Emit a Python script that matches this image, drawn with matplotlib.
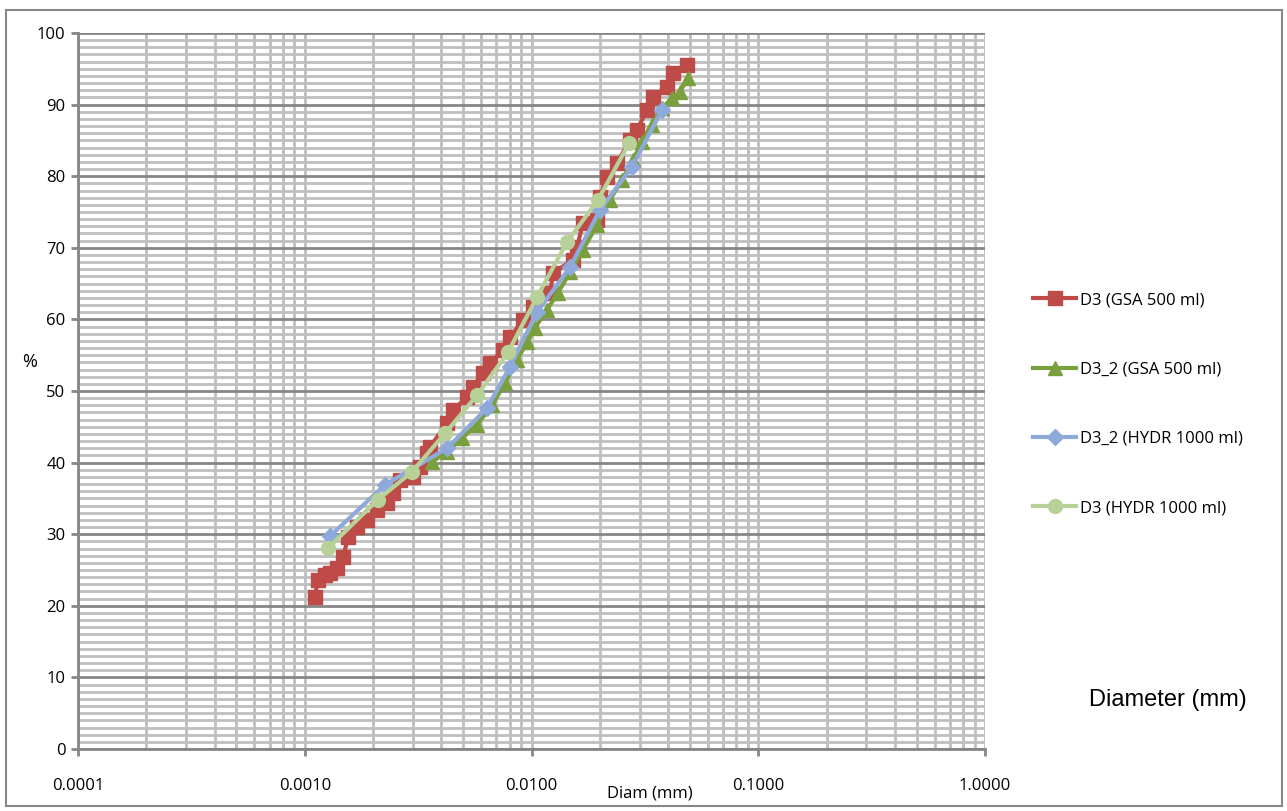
import numpy as np
from matplotlib import pyplot as plt
from matplotlib.ticker import FixedLocator, FuncFormatter, LogLocator, MultipleLocator
from matplotlib.patches import Rectangle

# D3 (GSA 500 ml)
gsa1_d = [0.00111, 0.00114, 0.00123, 0.00129, 0.00139, 0.00148, 0.00155, 0.00170, 0.00188,
          0.00208, 0.00231, 0.00245, 0.00263, 0.00300, 0.00322, 0.00346, 0.00357, 0.00424,
          0.00451, 0.00520, 0.00552, 0.00611, 0.00656, 0.00748, 0.00804, 0.00918, 0.01016,
          0.01208, 0.01245, 0.01525, 0.01589, 0.01687, 0.01945, 0.02006, 0.02154, 0.02384,
          0.02719, 0.02918, 0.03230, 0.03432, 0.03961, 0.04207, 0.04850]
gsa1_p = [21.2, 23.6, 24.3, 24.6, 25.3, 26.8, 29.6, 31.0, 32.0,
          33.4, 34.4, 35.8, 37.6, 38.0, 39.4, 41.3, 42.2, 45.5,
          47.3, 49.2, 50.6, 52.5, 53.9, 55.7, 57.5, 59.9, 61.7,
          63.7, 66.5, 68.3, 70.1, 73.5, 73.9, 77.1, 79.9, 81.8,
          85.1, 86.5, 89.2, 91.1, 92.5, 94.4, 95.5]

# D3_2 (GSA 500 ml)
gsa2_d = [0.00364, 0.00424, 0.00493, 0.00575, 0.00670, 0.00764, 0.00863, 0.00955, 0.01035,
          0.01169, 0.01308, 0.01479, 0.01687, 0.01945, 0.02220, 0.02507, 0.02805, 0.03070,
          0.03398, 0.03764, 0.04168, 0.04520, 0.04900]
gsa2_p = [40.1, 41.5, 43.4, 45.3, 48.0, 51.1, 54.3, 56.8, 58.8,
          61.3, 63.7, 66.6, 69.7, 73.2, 76.7, 79.5, 82.3, 84.8,
          87.2, 89.5, 90.9, 91.8, 93.7]

# D3_2 (HYDR 1000 ml)
hydr2_d = [0.00129, 0.00226, 0.00424, 0.00637, 0.00804, 0.01057, 0.01479, 0.02006, 0.02774, 0.03755]
hydr2_p = [29.7, 36.9, 42.0, 47.6, 53.4, 61.0, 67.3, 75.3, 81.3, 89.2]

# D3 (HYDR 1000 ml)
hydr1_d = [0.00127, 0.00210, 0.00297, 0.00416, 0.00575, 0.00787, 0.01057, 0.01434, 0.01966, 0.02692]
hydr1_p = [28.1, 34.8, 38.7, 44.1, 49.4, 55.4, 63.1, 70.8, 76.7, 84.6]

x_ticks = [0.0001, 0.001, 0.01, 0.1, 1.0]

plt.rcParams['font.family'] = ['Open Sans', 'DejaVu Sans']

fig = plt.figure(figsize=(12.87, 8.11), dpi=100)
ax = fig.add_axes([78/1287, 1-749/811, (985-78)/1287, (749-33)/811])

ax.plot(gsa1_d, gsa1_p, color='#BE4B48', marker='s', markersize=10, lw=3, label='D3 (GSA 500 ml)', zorder=3)
ax.plot(gsa2_d, gsa2_p, color='#7AA03E', marker='^', markersize=10, lw=3, label='D3_2 (GSA 500 ml)', zorder=4)
ax.plot(hydr2_d, hydr2_p, color='#8EAADB', marker='D', markersize=8, lw=3, label='D3_2 (HYDR 1000 ml)', zorder=5)
ax.plot(hydr1_d, hydr1_p, color='#B7D198', marker='o', markersize=10, lw=3, label='D3 (HYDR 1000 ml)', zorder=6)

ax.set_xscale('log')
ax.set_xlim(0.0001, 1)
ax.set_ylim(0, 100)
ax.xaxis.set_major_locator(FixedLocator(x_ticks))
ax.xaxis.set_minor_locator(LogLocator(base=10, subs=np.arange(2, 10)))
ax.xaxis.set_major_formatter(FuncFormatter(lambda v, p: f'{v:.4f}'))
ax.xaxis.set_minor_formatter(FuncFormatter(lambda v, p: ''))
ax.yaxis.set_major_locator(MultipleLocator(10))
ax.yaxis.set_minor_locator(MultipleLocator(1))

ax.grid(True, which='major', axis='y', color='#868686', lw=2)
ax.grid(True, which='minor', axis='y', color='#BFBFBF', lw=2)
ax.grid(True, which='both', axis='x', color='#BFBFBF', lw=2)
ax.set_axisbelow(True)

for s in ['top', 'right']:
    ax.spines[s].set_visible(False)
for s in ['left', 'bottom']:
    ax.spines[s].set_color('#868686')
    ax.spines[s].set_linewidth(2)

ax.tick_params(axis='y', which='major', length=5, width=2, color='#868686', labelsize=12, pad=4)
ax.tick_params(axis='x', which='major', length=5, width=2, color='#868686', labelsize=12, pad=16)
ax.tick_params(which='minor', length=0)

# axis titles placed where the reference has them
fig.text(650/1287, 1-794/811, 'Diam (mm)', fontsize=12, ha='center', va='center')
fig.text(30/1287, 1-362/811, '%', fontsize=13, ha='center', va='center')
fig.text(1168/1287, 1-700/811, 'Diameter (mm)', fontsize=17, family='Liberation Sans', ha='center', va='center')

ax.legend(loc='upper left', bbox_to_anchor=(1018/1287, 1-277/811), bbox_transform=fig.transFigure,
          frameon=False, fontsize=12, labelspacing=3.2, handlelength=2.6, handletextpad=0.2)

fig.patches.append(Rectangle((6/1287, 5/811), 1276/1287, 796/811, transform=fig.transFigure,
                             fill=False, edgecolor='#868686', lw=1.5))

plt.savefig('out.png', dpi=100)
